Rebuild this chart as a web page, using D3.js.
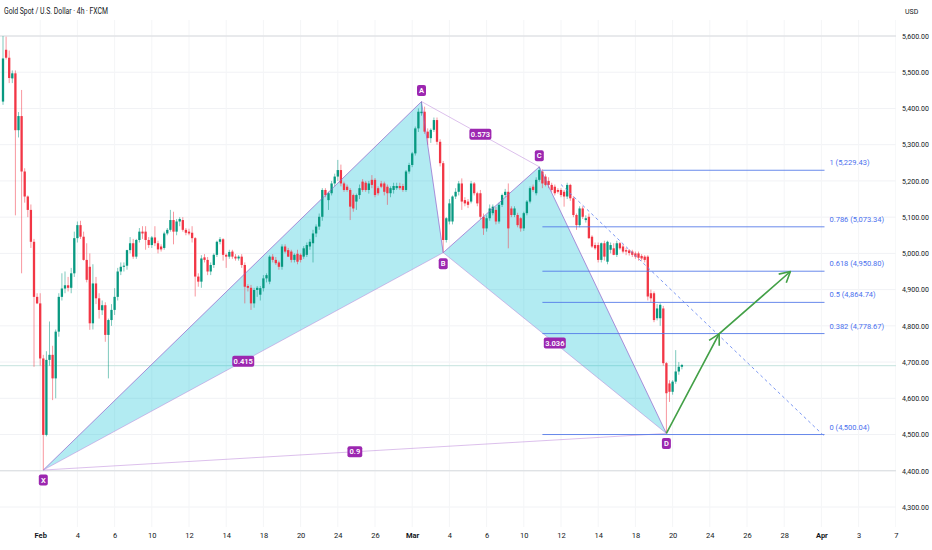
<!DOCTYPE html>
<html>
<head>
<meta charset="utf-8">
<script src="https://cdn.jsdelivr.net/npm/d3@7"></script>
<style>
  body { margin: 0; background: #fff; }
  svg { display: block; font-family: "Liberation Sans Narrow", "Roboto", sans-serif; }
</style>
</head>
<body>
<div id="chart"></div>
<script>
// 4h candles, Gold Spot / USD
const opens = [
  5419,5562,5540,5483,5497,5340,5379,5226,5157,5120,
  5032,4880,4862,4710,4499,4706,4720,4655,4784,4880,
  4903,4912,4905,4945,5042,5078,5046,4982,4963,4807,
  4917,4876,4843,4857,4775,4816,4844,4880,4950,4963,
  4966,5009,5028,4991,5037,5060,5060,5037,5023,5044,
  5028,5019,5015,5055,5065,5092,5060,5088,5092,5065,
  5060,5057,5042,4936,4922,4989,4982,4950,4968,4996,
  5032,5039,4996,4991,5005,4991,4986,4991,4968,4910,
  4905,4862,4899,4886,4904,4931,4922,4991,4982,4975,
  4963,5019,5009,5005,4982,4999,4996,4991,4996,5019,
  5028,5055,5074,5101,5175,5147,5166,5193,5212,5230,
  5193,5184,5175,5161,5143,5161,5198,5195,5175,5203,
  5203,5180,5193,5193,5184,5166,5175,5180,5186,5186,
  5175,5226,5244,5276,5345,5387,5391,5336,5318,5341,
  5368,5308,5249,5037,5088,5088,5157,5170,5193,5147,
  5143,5143,5193,5166,5166,5101,5069,5097,5111,5120,
  5088,5134,5161,5170,5124,5106,5106,5097,5069,5111,
  5143,5184,5166,5203,5226,5212,5200,5189,5184,5175,
  5175,5170,5157,5189,5152,5106,5078,5124,5092,5101,
  5046,5023,5023,4982,5028,4977,5010,5014,4996,5028,
  5019,5009,5008,5005,5000,5000,4993,4991,4991,4890,
  4890,4821,4821,4848,4697,4641,4618,4646,4674,4687
];
const highs = [
  5600,5598,5560,5505,5505,5390,5451,5235,5160,5135,
  5040,4890,4890,4720,4730,4812,4745,4790,4890,4945,
  4950,4935,4960,5060,5088,5090,5060,5028,5000,4970,
  4935,4890,4870,4865,4820,4860,4904,4960,4975,4975,
  5010,5045,5040,5040,5070,5075,5075,5045,5048,5075,
  5035,5025,5060,5070,5120,5115,5095,5100,5100,5070,
  5068,5075,5045,4945,4995,4998,4990,4975,5000,5035,
  5045,5042,5000,5010,5010,4998,4995,4998,4975,4915,
  4913,4905,4910,4910,4940,4945,4995,4998,4990,4980,
  5025,5025,5015,5010,5000,5010,5000,5020,5030,5040,
  5065,5080,5110,5180,5180,5170,5200,5220,5258,5245,
  5198,5190,5180,5165,5165,5190,5205,5200,5200,5216,
  5208,5185,5200,5198,5190,5185,5195,5195,5195,5192,
  5230,5250,5280,5350,5400,5419,5405,5345,5345,5375,
  5375,5315,5255,5100,5150,5160,5180,5200,5207,5155,
  5150,5200,5197,5170,5175,5110,5105,5135,5135,5128,
  5140,5165,5178,5193,5130,5130,5112,5100,5115,5147,
  5185,5190,5210,5239,5232,5218,5210,5195,5190,5180,
  5180,5175,5195,5192,5158,5110,5130,5130,5105,5110,
  5050,5030,5030,5030,5035,5035,5030,5028,5035,5032,
  5025,5015,5012,5010,5005,5005,4998,4995,4995,4900,
  4895,4860,4862,4855,4700,4650,4650,4733,4700,4695
];
const lows = [
  5410,5535,5470,5470,5105,5320,4945,5140,5100,5015,
  4687,4860,4690,4402,4495,4690,4595,4600,4770,4870,
  4890,4895,4890,4935,5030,5040,4980,4920,4789,4790,
  4860,4820,4830,4756,4655,4800,4830,4870,4940,4950,
  4955,5000,4985,4985,5030,5040,5010,5015,5015,5020,
  5000,5005,5010,5050,5060,5025,5050,5075,5060,5050,
  5050,5030,4881,4908,4905,4975,4940,4940,4960,4990,
  5025,4980,4960,4985,4985,4980,4980,4960,4862,4895,
  4844,4850,4880,4870,4895,4920,4915,4975,4968,4955,
  4955,5000,4990,4975,4975,4970,4975,4985,4990,5010,
  4975,5045,5065,5090,5155,5120,5160,5185,5200,5185,
  5170,5170,5092,5115,5120,5150,5170,5170,5165,5180,
  5155,5160,5180,5160,5134,5155,5165,5175,5175,5170,
  5170,5220,5238,5270,5335,5380,5330,5300,5305,5335,
  5300,5240,5002,5030,5080,5080,5150,5160,5120,5130,
  5125,5138,5160,5130,5095,5051,5060,5090,5105,5080,
  5082,5128,5155,5014,5100,5100,5072,5060,5062,5105,
  5138,5170,5160,5198,5180,5185,5180,5170,5160,5165,
  5155,5129,5150,5145,5100,5065,5072,5095,5085,5040,
  5015,5010,4975,4975,4980,4970,5000,4995,4990,5010,
  5000,4995,4994,4990,4985,4980,4980,4975,4870,4865,
  4810,4815,4800,4690,4503,4590,4610,4640,4665,4680
];
const closes = [
  5538,5540,5484,5497,5340,5379,5226,5157,5120,5032,
  4880,4862,4710,4499,4706,4720,4655,4784,4880,4903,
  4912,4905,4945,5042,5078,5046,4982,4927,4807,4917,
  4876,4844,4857,4775,4816,4844,4880,4950,4963,4966,
  5009,5028,4991,5037,5060,5055,5037,5023,5044,5028,
  5011,5011,5055,5065,5092,5060,5088,5095,5065,5057,
  5055,5042,4936,4922,4986,4982,4950,4968,4996,5032,
  5039,4996,4991,5004,4991,4986,4991,4968,4908,4905,
  4862,4899,4905,4904,4931,4940,4991,4982,4973,4963,
  5019,5005,4991,4982,4996,4977,4982,5014,5023,5032,
  5055,5074,5101,5175,5161,5166,5193,5212,5230,5193,
  5175,5175,5129,5124,5161,5180,5175,5175,5193,5189,
  5161,5166,5184,5170,5166,5180,5186,5186,5180,5175,
  5226,5244,5276,5345,5391,5391,5336,5318,5341,5368,
  5308,5249,5037,5097,5138,5157,5170,5193,5143,5138,
  5134,5193,5166,5138,5101,5069,5097,5124,5129,5088,
  5134,5161,5170,5069,5106,5124,5078,5069,5111,5143,
  5180,5175,5203,5230,5193,5189,5189,5175,5166,5170,
  5161,5157,5189,5152,5106,5078,5124,5101,5097,5042,
  5019,5014,4982,5028,4991,5032,5023,4996,5028,5014,
  5005,5005,5001,4996,4991,4988,4986,4982,4881,4876,
  4816,4848,4858,4697,4614,4618,4646,4674,4687,4692
];

// time axis (bar index of each label) and price axis
const xTickLabels = ["Feb","4","6","10","12","14","18","20","24","26","Mar","4","6","10","12","14","18","20","24","26","28","Apr","3","7"];
const xTickBars = [12,24,36,48,60,72,84,96,108,120,132,144,156,168,180,192,204,216,228,240,252,264,276,288];
const monthLabels = ["Feb","Mar","Apr"];
const yTicks = [5600,5500,5400,5300,5200,5100,5000,4900,4800,4700,4600,4500,4400,4300];

// XABCD harmonic pattern
const patternNames = ["X","A","B","C","D"];
const patternBars = [13,135,142,173,214];
const patternPrices = [4402,5419,5002,5239,4503];
const ratioLabels = ["0.415","0.573","3.036","0.9"];   // XB, AC, BD, XD
const ratioPairs = [[0,2],[1,3],[2,4],[0,4]];

// Fib retracement C -> D
const fibRatios = ["1","0.786","0.618","0.5","0.382","0"];
const fibPrices = [5229.43,5073.34,4950.80,4864.74,4778.67,4500.04];
const fibStartBar = 174, fibEndBar = 265;

// projected path (green arrows) and dashed trend line
const arrowBars = [214,231,254];
const arrowPrices = [4503,4778,4950];
const trendBars = [180,265];
const trendPrices = [5190,4495];

const lastPrice = 4690;
const levelLines = [5600,4400];

const width = 932, height = 550;
const plotRight = 896;

const svg = d3.select("#chart").append("svg")
  .attr("width", width).attr("height", height);

svg.append("rect").attr("width", width).attr("height", height).attr("fill", "#fff");

const x = d3.scaleLinear().domain([0, 288]).range([3, 895.8]);
const y = d3.scaleLinear().domain([4300, 5600]).range([507, 36]);

svg.append("clipPath").attr("id", "plotClip")
  .append("rect").attr("x", 0).attr("y", 20).attr("width", plotRight).attr("height", 510);

const plot = svg.append("g").attr("clip-path", "url(#plotClip)");

// grid
plot.selectAll("line.hgrid").data(yTicks).join("line")
  .attr("x1", 0).attr("x2", plotRight)
  .attr("y1", d => y(d)).attr("y2", d => y(d))
  .attr("stroke", "#f1f2f5").attr("stroke-width", 1);
plot.selectAll("line.vgrid").data(xTickBars).join("line")
  .attr("x1", d => x(d)).attr("x2", d => x(d))
  .attr("y1", 20).attr("y2", 527)
  .attr("stroke", "#f4f5f7").attr("stroke-width", 1);

// horizontal level lines
plot.selectAll("line.level").data(levelLines).join("line")
  .attr("x1", 0).attr("x2", plotRight)
  .attr("y1", d => y(d)).attr("y2", d => y(d))
  .attr("stroke", "#d8dade").attr("stroke-width", 1);

plot.append("line")
  .attr("x1", 0).attr("x2", plotRight)
  .attr("y1", y(lastPrice)).attr("y2", y(lastPrice))
  .attr("stroke", "#c6e3de").attr("stroke-width", 1);

// pattern points in pixels
const pts = patternBars.map((b, i) => [x(b), y(patternPrices[i])]);

// filled triangles XAB and BCD
plot.selectAll("path.tri").data([[0,1,2],[2,3,4]]).join("path")
  .attr("d", d => d3.line()(d.map(k => pts[k])) + "Z")
  .attr("fill", "rgba(0,188,212,0.3)")
  .attr("stroke", "none");

// candles
const bars = closes.map((c, i) => ({ i, o: opens[i], h: highs[i], l: lows[i], c }));
const up = "#089981", down = "#f23645";

plot.selectAll("line.wick").data(bars).join("line")
  .attr("x1", d => x(d.i)).attr("x2", d => x(d.i))
  .attr("y1", d => y(d.h)).attr("y2", d => y(d.l))
  .attr("stroke", d => d.c >= d.o ? up : down)
  .attr("stroke-opacity", 0.65)
  .attr("stroke-width", 0.8);

plot.selectAll("rect.body").data(bars).join("rect")
  .attr("x", d => x(d.i) - 1.15)
  .attr("width", 2.3)
  .attr("y", d => y(Math.max(d.o, d.c)))
  .attr("height", d => Math.max(0.8, Math.abs(y(d.o) - y(d.c))))
  .attr("fill", d => d.c >= d.o ? up : down);

// pattern lines
const lineGen = d3.line();
plot.append("path")
  .attr("d", lineGen(pts))
  .attr("fill", "none")
  .attr("stroke", "#8e5cc9").attr("stroke-opacity", 0.75).attr("stroke-width", 0.9);

plot.selectAll("line.ratio").data(ratioPairs).join("line")
  .attr("x1", d => pts[d[0]][0]).attr("y1", d => pts[d[0]][1])
  .attr("x2", d => pts[d[1]][0]).attr("y2", d => pts[d[1]][1])
  .attr("stroke", "#b57ad6").attr("stroke-opacity", 0.6).attr("stroke-width", 0.8);

// fib retracement levels
plot.selectAll("line.fib").data(fibPrices).join("line")
  .attr("x1", x(fibStartBar)).attr("x2", x(fibEndBar))
  .attr("y1", d => y(d)).attr("y2", d => y(d))
  .attr("stroke", "#4f75e8").attr("stroke-opacity", 0.85).attr("stroke-width", 1);

plot.selectAll("text.fib").data(fibPrices).join("text")
  .attr("x", x(fibEndBar) + 5)
  .attr("y", d => y(d) - 7)
  .attr("dominant-baseline", "middle")
  .attr("font-size", 7.5)
  .attr("fill", "#4a70ee")
  .text((d, i) => `${fibRatios[i]} (${d3.format(",.2f")(d)})`);

// dashed trend line
plot.append("line")
  .attr("x1", x(trendBars[0])).attr("y1", y(trendPrices[0]))
  .attr("x2", x(trendBars[1])).attr("y2", y(trendPrices[1]))
  .attr("stroke", "#6d8cf0").attr("stroke-width", 0.9)
  .attr("stroke-dasharray", "3,3");

// green projection arrows
const arrowPts = arrowBars.map((b, i) => [x(b), y(arrowPrices[i])]);
const green = "#43a047";
plot.append("path")
  .attr("d", lineGen(arrowPts))
  .attr("fill", "none").attr("stroke", green).attr("stroke-width", 1.6);

function arrowHead(from, to) {
  const ang = Math.atan2(to[1] - from[1], to[0] - from[0]);
  const len = 12, spread = 0.5;
  const p1 = [to[0] - len * Math.cos(ang - spread), to[1] - len * Math.sin(ang - spread)];
  const p2 = [to[0] - len * Math.cos(ang + spread), to[1] - len * Math.sin(ang + spread)];
  plot.append("path")
    .attr("d", lineGen([p1, to, p2]))
    .attr("fill", "none").attr("stroke", green).attr("stroke-width", 1.6)
    .attr("stroke-linejoin", "round");
}
arrowHead(arrowPts[0], arrowPts[1]);
arrowHead(arrowPts[1], arrowPts[2]);

// purple labels
const purple = "#9c27b0";
function tag(cx, cy, label, w) {
  const g = plot.append("g");
  g.append("rect")
    .attr("x", cx - w / 2).attr("y", cy - 5.5)
    .attr("width", w).attr("height", 11).attr("rx", 2)
    .attr("fill", purple);
  g.append("text")
    .attr("x", cx).attr("y", cy + 0.5)
    .attr("text-anchor", "middle").attr("dominant-baseline", "middle")
    .attr("font-size", 7.5).attr("font-weight", 600)
    .attr("fill", "#fff")
    .text(label);
}
const tagOffset = [10, -11, 11, -11, 10];
pts.forEach((p, i) => tag(p[0], p[1] + tagOffset[i], patternNames[i], 9));
ratioPairs.forEach((pr, i) => {
  const a = pts[pr[0]], b = pts[pr[1]];
  tag((a[0] + b[0]) / 2, (a[1] + b[1]) / 2, ratioLabels[i], ratioLabels[i].length * 3.6 + 4);
});

// axes
const yAxis = svg.append("g")
  .attr("transform", "translate(902,0)")
  .call(d3.axisRight(y).tickValues(yTicks).tickFormat(d3.format(",.2f")).tickSize(0));
yAxis.select(".domain").remove();
yAxis.selectAll("text")
  .attr("x", 0).attr("dy", "0.32em")
  .attr("font-family", "\"Liberation Sans Narrow\", Roboto, sans-serif")
  .attr("font-size", 7).attr("fill", "#131722");

const xAxis = svg.append("g")
  .attr("transform", "translate(0,536)")
  .call(d3.axisBottom(x).tickValues(xTickBars).tickFormat((d, i) => xTickLabels[i]).tickSize(0));
xAxis.select(".domain").remove();
xAxis.selectAll("text")
  .attr("y", 0).attr("dy", "0.32em")
  .attr("font-family", "\"Liberation Sans Narrow\", Roboto, sans-serif")
  .attr("font-size", 7.5)
  .attr("font-weight", (d, i) => monthLabels.includes(xTickLabels[i]) ? 700 : 400)
  .attr("fill", "#131722");

// header
svg.append("text")
  .attr("x", 4).attr("y", 14)
  .attr("font-size", 8.5).attr("fill", "#131722")
  .attr("textLength", 104).attr("lengthAdjust", "spacingAndGlyphs")
  .text("Gold Spot / U.S. Dollar · 4h · FXCM");

svg.append("text")
  .attr("x", 905).attr("y", 14)
  .attr("font-size", 7).attr("fill", "#131722")
  .text("USD");
</script>
</body>
</html>
